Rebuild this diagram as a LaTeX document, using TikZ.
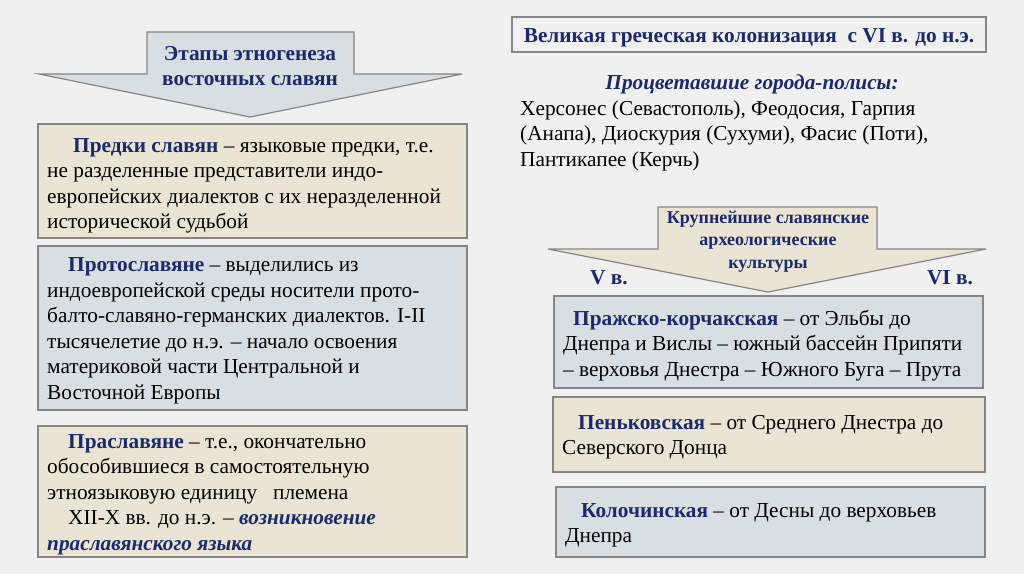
\documentclass[tikz,border=0pt]{standalone}
\usepackage{fontspec}
\setmainfont{Liberation Serif}[Ligatures=TeX]
\definecolor{bgc}{HTML}{F0F0F0}
\definecolor{beige}{HTML}{E9E4D3}
\definecolor{bluegray}{HTML}{D8DEE2}
\definecolor{navy}{HTML}{1C2A6B}
\definecolor{edge}{HTML}{858585}
\tikzset{
  panel/.style={draw=edge, line width=1.2pt},
  body/.style={anchor=base west, inner sep=0pt, align=left, font=\fontsize{21.3}{25.5}\selectfont},
  head/.style={anchor=base, inner sep=0pt, align=center, text=navy, font=\bfseries\fontsize{21.3}{25}\selectfont},
}
\newcommand{\kw}[1]{\textbf{\color{navy}#1}}
\begin{document}
\begin{tikzpicture}[x=1pt,y=-1pt]
\fill[bgc] (0,0) rectangle (1024,574);
\useasboundingbox (0,0) rectangle (1024,574);

% left arrow
\draw[panel, fill=bluegray] (147,32) -- (354,32) -- (354,74) -- (462,74) -- (250,117) -- (39,74) -- (147,74) -- cycle;
\node[head] (etapy) at (250,85) {Этапы этногенеза\\восточных славян};

% left boxes
\draw[panel, fill=beige] (38,124) rectangle (467,238);
\node[body] (predki) at (47,228.5) {\hspace*{26pt}\kw{Предки славян} – языковые предки, т.е.\\не разделенные представители индо-\\европейских диалектов с их неразделенной\\исторической судьбой};

\draw[panel, fill=bluegray] (38,246) rectangle (467,410);
\node[body] (proto) at (47,399) {\hspace*{21pt}\kw{Протославяне} – выделились из\\индоевропейской среды носители прото-\\балто-славяно-германских диалектов. I-II\\тысячелетие до н.э. – начало освоения\\материковой части Центральной и\\Восточной Европы};

\draw[panel, fill=beige] (38,426) rectangle (467,557);
\node[body] (pra) at (47,550) {\hspace*{21pt}\kw{Праславяне} – т.е., окончательно\\обособившиеся в самостоятельную\\этноязыковую единицу \ \ племена\\\hspace*{21pt}XII-X вв. до н.э. – {\color{navy}\bfseries\itshape возникновение}\\{\color{navy}\bfseries\itshape праславянского языка}};

% right title
\draw[panel, fill=bgc] (512,17) rectangle (986,52);
\node[head] (title) at (749,42) {Великая греческая колонизация \ с VI в. до н.э.};

\node[head, font=\bfseries\itshape\fontsize{21.3}{25}\selectfont] (polis) at (752,89) {Процветавшие города-полисы:};
\node[body] (cities) at (520,166) {Херсонес (Севастополь), Феодосия, Гарпия\\(Анапа), Диоскурия (Сухуми), Фасис (Поти),\\Пантикапее (Керчь)};

% right arrow
\draw[panel, fill=beige] (658,207) -- (877,207) -- (877,249) -- (986,249) -- (768,292) -- (548,249) -- (658,249) -- cycle;
\node[head, font=\bfseries\fontsize{18}{22.8}\selectfont] (kult) at (768,268.6) {Крупнейшие славянские\\археологические\\культуры};
\node[head] (v5) at (609,284) {V в.};
\node[head] (v6) at (950,284) {VI в.};

% right boxes
\draw[panel, fill=bluegray] (554,296) rectangle (983,388);
\node[body] (prazh) at (563,376) {\hspace*{10pt}\kw{Пражско-корчакская} – от Эльбы до\\Днепра и Вислы – южный бассейн Припяти\\– верховья Днестра – Южного Буга – Прута};

\draw[panel, fill=beige] (553,397) rectangle (985,472);
\node[body] (penk) at (562,454.5) {\hspace*{16pt}\kw{Пеньковская} – от Среднего Днестра до\\Северского Донца};

\draw[panel, fill=bluegray] (556,487) rectangle (985,557);
\node[body] (koloch) at (565,542.5) {\hspace*{16pt}\kw{Колочинская} – от Десны до верховьев\\Днепра};
\end{tikzpicture}
\end{document}
